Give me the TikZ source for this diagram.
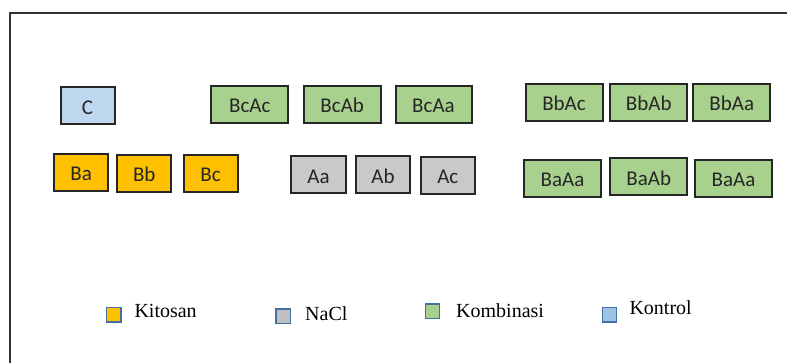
\documentclass[tikz,border=0pt]{standalone}
\usepackage{fontspec}
\setmainfont{Liberation Serif}
\newfontfamily\boxfont{Carlito}
\definecolor{kitosan}{HTML}{FFC000}
\definecolor{nacl}{HTML}{C9C9C9}
\definecolor{naclkey}{HTML}{BFBFBF}
\definecolor{kombinasi}{HTML}{A9D18E}
\definecolor{kontrol}{HTML}{BDD7EE}
\definecolor{kontrolkey}{HTML}{9DC3E6}
\definecolor{edge}{HTML}{262626}
\definecolor{keyedge}{HTML}{41719C}
\begin{document}
\begin{tikzpicture}[x=1pt,y=-1pt,
  cell/.style={draw=edge, line width=2pt, inner sep=0pt,
    minimum height=37pt, font=\boxfont\fontsize{21}{21}\selectfont,
    text height=16.5pt, text depth=0pt, text=black!85},
  narrow/.style={cell, minimum width=54pt},
  wide/.style={cell, minimum width=77pt},
  keybox/.style={draw=keyedge, line width=1.4pt, minimum size=14.5pt, inner sep=0pt},
  keytext/.style={anchor=base west, inner sep=0pt, font=\fontsize{20}{20}\selectfont}]
\useasboundingbox (0,0) rectangle (787,363);
% open frame: left and top edges
\draw[line width=2pt, black!80] (10,363) -- (10,13.5) -- (787,13.5);
% control
\node[narrow, fill=kontrol] (c) at (87.5,105.8) {C};
% chitosan
\node[narrow, fill=kitosan] (ba) at (81.2,172.5) {Ba};
\node[narrow, fill=kitosan] (bb) at (144.3,173.7) {Bb};
\node[narrow, fill=kitosan] (bc) at (210.6,173.7) {Bc};
% NaCl
\node[narrow, fill=nacl, minimum width=55pt] (aa) at (318.5,175) {Aa};
\node[narrow, fill=nacl] (ab) at (383,175) {Ab};
\node[narrow, fill=nacl] (ac) at (447.8,175.3) {Ac};
% combinations
\node[wide, fill=kombinasi] (bcac) at (249.8,104.2) {BcAc};
\node[wide, fill=kombinasi] (bcab) at (342.2,104.2) {BcAb};
\node[wide, fill=kombinasi, minimum width=76pt] (bcaa) at (433.5,104.3) {BcAa};
\node[wide, fill=kombinasi] (bbac) at (564,102.5) {BbAc};
\node[wide, fill=kombinasi] (bbab) at (648.8,102.5) {BbAb};
\node[wide, fill=kombinasi] (bbaa) at (731.8,102.5) {BbAa};
\node[wide, fill=kombinasi] (baaa) at (562.5,178.3) {BaAa};
\node[wide, fill=kombinasi] (baab) at (648.8,176.8) {BaAb};
\node[wide, fill=kombinasi] (baaz) at (733.5,178.7) {BaAa};
% legend
\node[keybox, fill=kitosan] (k1) at (113.7,314.7) {};
\node[keytext] (t1) at (134.3,317.5) {Kitosan};
\node[keybox, fill=naclkey] (k2) at (283.2,316.2) {};
\node[keytext] (t2) at (305,320) {NaCl};
\node[keybox, fill=kombinasi] (k3) at (432.5,311.3) {};
\node[keytext] (t3) at (456,317) {Kombinasi};
\node[keybox, fill=kontrolkey] (k4) at (609.5,314.7) {};
\node[keytext] (t4) at (629.3,315) {Kontrol};
\end{tikzpicture}
\end{document}
